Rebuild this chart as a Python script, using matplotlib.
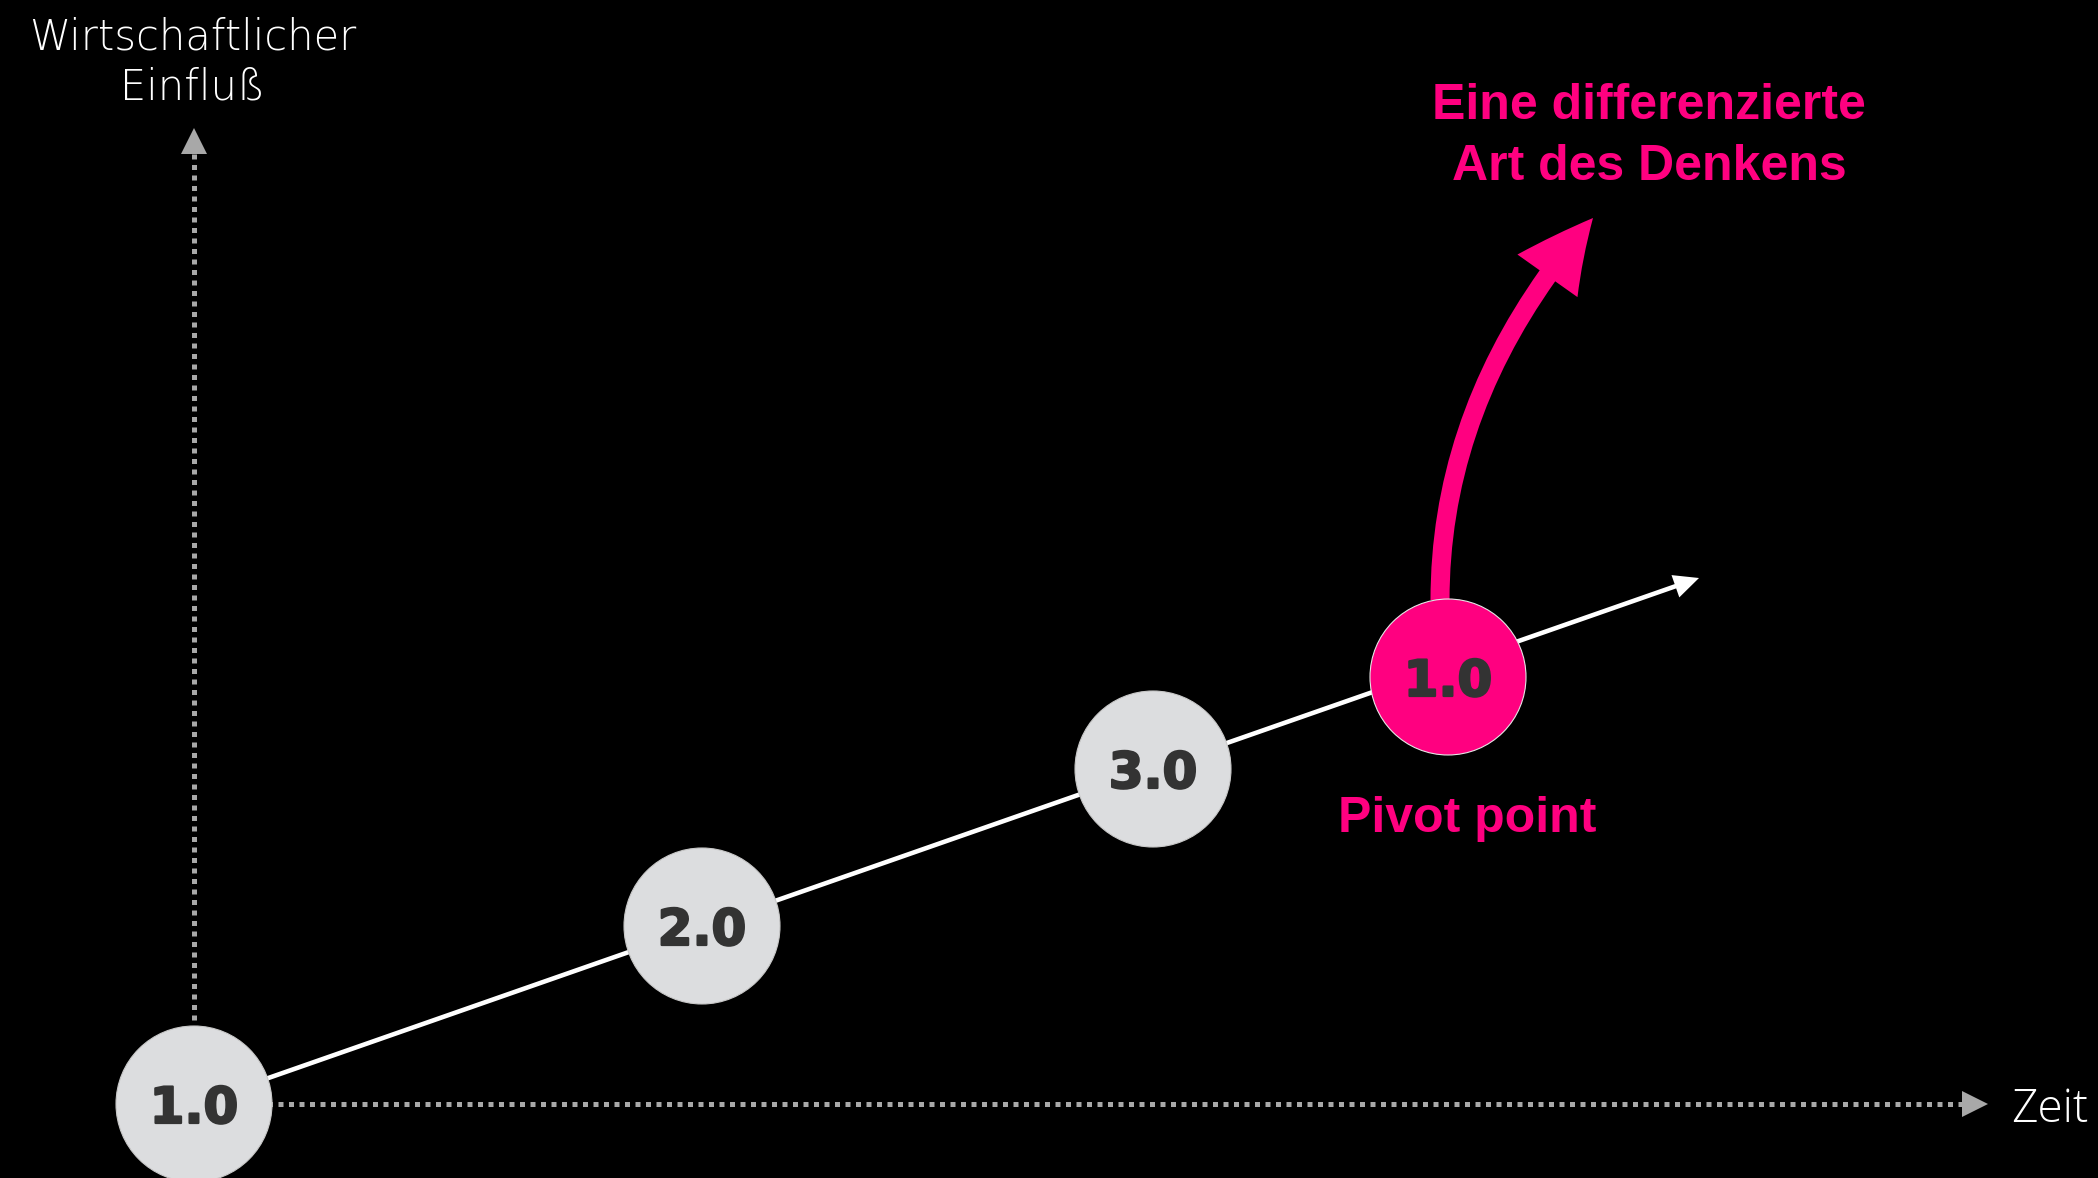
"""Pivot-point diagram: versions 1.0 -> 2.0 -> 3.0 along a growth line,
then a pink pivot back to 1.0 with an arrow bending upwards."""

import matplotlib
matplotlib.use("Agg")
import matplotlib.pyplot as plt
from matplotlib import patheffects
from matplotlib.patches import Circle, FancyArrowPatch
from matplotlib.path import Path

# ----------------------------------------------------------------------------
# Data (pixel-like diagram units, origin top left)
# ----------------------------------------------------------------------------
node_labels = ["1.0", "2.0", "3.0", "1.0"]
node_zeit = [194, 702, 1153, 1448]
node_einfluss = [1104, 926, 769, 677]
node_is_pivot = [False, False, False, True]

trend_end = (1699, 578)           # tip of the white growth arrow
pivot_curve = [(1440, 600), (1440, 394), (1593, 218)]   # start, control, tip

x_axis_label = "Zeit"
y_axis_label = ["Wirtschaftlicher", "Einfluß"]
pivot_label = "Pivot point"
pivot_title = ["Eine differenzierte", "Art des Denkens"]

# ----------------------------------------------------------------------------
# Style
# ----------------------------------------------------------------------------
W, H = 2098, 1178
BG = "black"
PINK = "#ff0080"
NODE_GREY = "#dcdddf"
LABEL_DARK = "#333333"
AXIS_GREY = "#a8a8a8"
RADIUS = 78

fig = plt.figure(figsize=(W / 100, H / 100), dpi=100, facecolor=BG)
ax = fig.add_axes([0, 0, 1, 1])
ax.set_facecolor(BG)
ax.set_xlim(0, W)
ax.set_ylim(H, 0)
ax.axis("off")

x0, y0 = node_zeit[0], node_einfluss[0]

# dotted axes with grey triangle heads
ax.plot([x0, x0], [y0, 153], color=AXIS_GREY, lw=3.6, ls=(0, (1, 1.1)),
        dash_capstyle="butt", zorder=1)
ax.plot([x0], [141], marker="^", ms=18.5, color=AXIS_GREY, mew=0, zorder=1)
ax.plot([x0, 1962], [y0, y0], color=AXIS_GREY, lw=3.6, ls=(0, (1, 1.1)),
        dash_capstyle="butt", zorder=1)
ax.plot([1975], [y0], marker=">", ms=18.5, color=AXIS_GREY, mew=0, zorder=1)

# white growth arrow
ax.add_patch(FancyArrowPatch(
    (x0, y0), trend_end,
    arrowstyle="simple,head_length=18,head_width=17,tail_width=3.3",
    mutation_scale=1, shrinkA=0, shrinkB=0, lw=0, color="white", zorder=2))

# pink pivot arrow
pivot_path = Path(pivot_curve, [Path.MOVETO, Path.CURVE3, Path.CURVE3])
ax.add_patch(FancyArrowPatch(
    path=pivot_path,
    arrowstyle="simple,head_length=53,head_width=53,tail_width=13.7",
    mutation_scale=1, lw=0, color=PINK, zorder=2))

# nodes
heavy = [patheffects.withStroke(linewidth=1.6, foreground=LABEL_DARK)]
for label, x, y, pivot in zip(node_labels, node_zeit, node_einfluss, node_is_pivot):
    face = PINK if pivot else NODE_GREY
    edge = "#e6e6e6" if pivot else "#c8c8c8"
    ax.add_patch(Circle((x, y), RADIUS, facecolor=face, edgecolor=edge,
                        lw=0.8, zorder=3))
    ax.text(x, y + 19, label, ha="center", va="baseline", fontsize=36,
            family="DejaVu Sans", weight="bold", color=LABEL_DARK, zorder=4,
            path_effects=heavy)

# axis labels
ax.text(2011, 1122, x_axis_label, ha="left", va="baseline", fontsize=33,
        family=["Open Sans", "DejaVu Sans"], weight="light", color="white")
ax.text(193, 50, y_axis_label[0], ha="center", va="baseline", fontsize=30,
        family="DejaVu Sans", weight=200, color="white")
ax.text(193, 99, y_axis_label[1], ha="center", va="baseline", fontsize=30,
        family="DejaVu Sans", weight=200, color="white")

# pink annotations
ax.text(1467, 832, pivot_label, ha="center", va="baseline", fontsize=36,
        family="Liberation Sans", weight="bold", color=PINK)
for i, line in enumerate(pivot_title):
    ax.text(1649, 119 + 61 * i, line, ha="center", va="baseline", fontsize=36,
            family="Liberation Sans", weight="bold", color=PINK)

fig.savefig("out.png", dpi=100, facecolor=BG)
plt.close(fig)
